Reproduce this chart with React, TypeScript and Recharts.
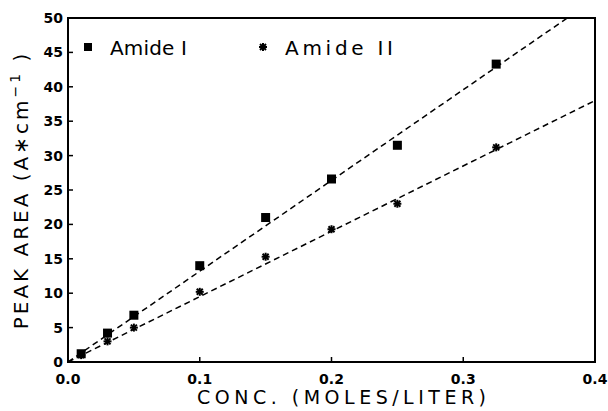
import React from "react"
import { ScatterChart, Scatter, XAxis, YAxis, ReferenceArea, Legend } from "recharts"

// concentration (moles/liter) and peak areas
const conc = [0.01, 0.03, 0.05, 0.1, 0.15, 0.2, 0.25, 0.325]
const amideI = [1.2, 4.2, 6.8, 14.0, 21.0, 26.6, 31.5, 43.3]
const amideII = [1.0, 3.0, 5.0, 10.2, 15.3, 19.3, 23.0, 31.2]

// dashed fit lines (end points)
const fitIX = [0, 0.379]
const fitIY = [0, 50]
const fitIIX = [0, 0.4]
const fitIIY = [0, 38]

const xTicks = [0, 0.1, 0.2, 0.3, 0.4]
const yTicks = [0, 5, 10, 15, 20, 25, 30, 35, 40, 45, 50]

const toPoints = (xs: number[], ys: number[]) => xs.map((x, i) => ({ x, y: ys[i] }))

const dataI = toPoints(conc, amideI)
const dataII = toPoints(conc, amideII)
const lineI = toPoints(fitIX, fitIY)
const lineII = toPoints(fitIIX, fitIIY)

const FONT = "'DejaVu Sans', sans-serif"
const W = 608
const H = 411

const Square = (p: any) => (
  <rect x={p.cx - 4.5} y={p.cy - 4.5} width={9} height={9} fill="#000" />
)

const Asterisk = (p: any) => {
  const { cx, cy } = p
  const r = 4
  return (
    <g stroke="#000" strokeWidth={2}>
      <line x1={cx - r} y1={cy} x2={cx + r} y2={cy} />
      <line x1={cx} y1={cy - r} x2={cx} y2={cy + r} />
      <line x1={cx - r + 1} y1={cy - r + 1} x2={cx + r - 1} y2={cy + r - 1} />
      <line x1={cx - r + 1} y1={cy + r - 1} x2={cx + r - 1} y2={cy - r + 1} />
    </g>
  )
}

const Nothing = () => <g />

const XTick = (p: any) => {
  const v = p.payload.value
  const inner = v > 0 && v < 0.4
  return (
    <g>
      {inner && <line x1={p.x} x2={p.x} y1={p.y - 12} y2={p.y - 17} stroke="#000" strokeWidth={1.5} />}
      <text x={p.x} y={p.y} dy="0.71em" textAnchor="middle" fontFamily={FONT} fontSize={14} fontWeight="bold" fill="#000">
        {v.toFixed(1)}
      </text>
    </g>
  )
}

const YTick = (p: any) => {
  const v = p.payload.value
  const inner = v > 0 && v < 50
  return (
    <g>
      {inner && <line x1={p.x + 5} x2={p.x + 10} y1={p.y} y2={p.y} stroke="#000" strokeWidth={1.5} />}
      <text x={p.x} y={p.y} dy="0.355em" textAnchor="end" fontFamily={FONT} fontSize={14} fontWeight="bold" fill="#000">
        {v}
      </text>
    </g>
  )
}

const LegendBox = () => (
  <svg width={340} height={32}>
    <rect x={6} y={13} width={8} height={8} fill="#000" />
    <text x={32} y={24.5} fontFamily={FONT} fontSize={20} fill="#000" textLength={77} lengthAdjust="spacing">
      Amide I
    </text>
    <g stroke="#000" strokeWidth={2}>
      <line x1={181} y1={17} x2={189} y2={17} />
      <line x1={185} y1={13} x2={185} y2={21} />
      <line x1={182} y1={14} x2={188} y2={20} />
      <line x1={182} y1={20} x2={188} y2={14} />
    </g>
    <text x={207} y={24.5} fontFamily={FONT} fontSize={20} fill="#000" textLength={108} lengthAdjust="spacing">
      Amide II
    </text>
  </svg>
)

export default function App() {
  return (
    <div style={{ position: "absolute", left: 0, top: 0, width: W, height: H, background: "#fff" }}>
      <ScatterChart width={W} height={H} margin={{ top: 18, right: 13, bottom: 0, left: 0 }}>
        <XAxis
          type="number"
          dataKey="x"
          domain={[0, 0.4]}
          ticks={xTicks}
          allowDataOverflow
          height={49}
          tickSize={0}
          tickMargin={12}
          tick={<XTick />}
          axisLine={{ stroke: "#000", strokeWidth: 2 }}
          label={{
            content: (props: any) => {
              const vb = props.viewBox
              return (
                <text x={vb.x + vb.width / 2 + 10} y={404} textAnchor="middle" fontFamily={FONT} fontSize={19} fill="#000" textLength={289} lengthAdjust="spacing">
                  CONC. (MOLES/LITER)
                </text>
              )
            },
          }}
        />
        <YAxis
          type="number"
          dataKey="y"
          domain={[0, 50]}
          ticks={yTicks}
          allowDataOverflow
          width={68}
          tickSize={0}
          tickMargin={5}
          tick={<YTick />}
          axisLine={{ stroke: "#000", strokeWidth: 2 }}
          label={{
            content: (props: any) => {
              const vb = props.viewBox
              const cy = vb.y + vb.height / 2
              return (
                <text x={21} y={cy} transform={`rotate(-90 21 ${cy})`} dy="0.36em" textAnchor="middle" fontFamily={FONT} fontSize={20} fill="#000" letterSpacing={3}>
                  PEAK AREA (A∗cm
                  <tspan fontSize={14} dy={-8}>−1</tspan>
                  <tspan dy={8}> )</tspan>
                </text>
              )
            },
          }}
        />
        <ReferenceArea x1={0} x2={0.4} y1={0} y2={50} fill="none" stroke="#000" strokeWidth={2} ifOverflow="visible" />
        <Scatter data={lineI} isAnimationActive={false} shape={<Nothing />} line={{ stroke: "#000", strokeWidth: 1.5, strokeDasharray: "6 4" }} />
        <Scatter data={lineII} isAnimationActive={false} shape={<Nothing />} line={{ stroke: "#000", strokeWidth: 1.5, strokeDasharray: "6 4" }} />
        <Scatter name="Amide I" data={dataI} isAnimationActive={false} shape={<Square />} />
        <Scatter name="Amide II" data={dataII} isAnimationActive={false} shape={<Asterisk />} />
        <Legend
          layout="vertical"
          align="center"
          verticalAlign="middle"
          content={<LegendBox />}
          wrapperStyle={{ position: "absolute", left: 78, top: 30, width: 340, height: 32 }}
        />
      </ScatterChart>
    </div>
  )
}
